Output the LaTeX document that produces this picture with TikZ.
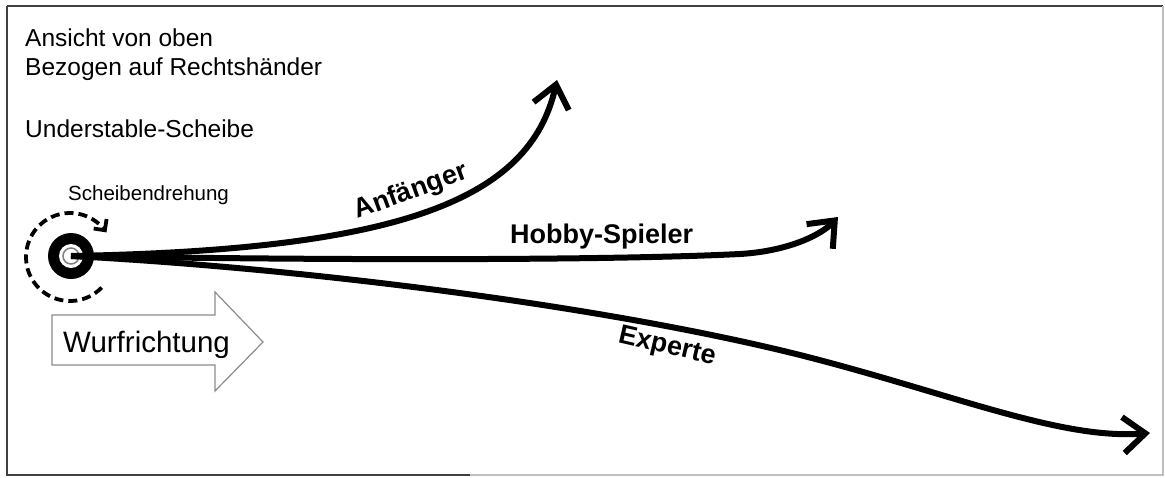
\documentclass[tikz,border=0pt]{standalone}
\usepackage{fontspec}
\setmainfont{Liberation Sans}
\usetikzlibrary{arrows.meta}
\begin{document}
\begin{tikzpicture}[x=1pt,y=-1pt,
  plain/.style={font=\fontsize{24.5}{29}\selectfont, inner sep=0pt, anchor=base west},
  small/.style={font=\fontsize{20.5}{24}\selectfont, inner sep=0pt, anchor=base west},
  lbl/.style={font=\bfseries\fontsize{27}{32}\selectfont, inner sep=0pt},
  traj/.style={line width=6pt, -{Straight Barb[length=22pt,width=36pt]}},
  frame/.style={line width=1.6pt, black!75},
  spin/.style={line width=3.8pt, dash pattern=on 9pt off 5pt, -{Straight Barb[length=8pt,width=16pt]}},
  dirarrow/.style={draw=black!45, line width=1.2pt, fill=white, line join=miter}
]
\useasboundingbox (0,0) rectangle (1165,477);
\fill[white] (0,0) rectangle (1165,477);
% frame
\draw[frame] (7,6) -- (1163,6);
\draw[frame] (7,6) -- (7,475) -- (470,475);
\draw[frame, black!25] (470,475) -- (1163,475) -- (1163,6);

% header texts
\node[plain] (t1) at (25,46) {Ansicht von oben};
\node[plain] (t2) at (25,75) {Bezogen auf Rechtsh\"ander};
\node[plain] (t3) at (25,137) {Understable-Scheibe};
\node[small] (dreh) at (68,200) {Scheibendrehung};

% throwing direction arrow
\draw[dirarrow] (52,315) -- (215,315) -- (215,292) -- (263,342) -- (215,391) -- (215,365) -- (52,365) -- cycle;
\node[plain, font=\fontsize{29.5}{34}\selectfont] (wurf) at (63,352) {Wurfrichtung};

% disc
\node[circle, fill=black, minimum size=46pt, inner sep=0pt] (disc) at (71,256) {};
\fill[white] (disc.center) circle[radius=12pt];
\draw[black!50, line width=1.5pt] (disc.center) circle[radius=8pt];

% spin arrow
\draw[spin] plot[domain=44:326, samples=60] ({70+44*cos(\x)},{257+44*sin(\x)});

% trajectories
\coordinate (tipA) at (557,80);
\coordinate (tipH) at (838,217);
\coordinate (tipE) at (1150,433);
\draw[traj] (disc.center) .. controls (400,250) and (530,200) .. (tipA);
\draw[traj] (disc.center) .. controls (300,260) and (600,261) .. (740,254)
   .. controls (790,251) and (822,234) .. (tipH);
\draw[traj] (disc.center) .. controls (300,268) and (600,305) .. (800,355)
   .. controls (950,393) and (1060,440) .. (tipE);

% labels
\node[lbl, rotate=20] (anf) at (411,192) {Anf\"anger};
\node[lbl, anchor=base west] (hobby) at (510,243) {Hobby-Spieler};
\node[lbl, rotate=-13] (exp) at (667,347) {Experte};
\end{tikzpicture}
\end{document}
